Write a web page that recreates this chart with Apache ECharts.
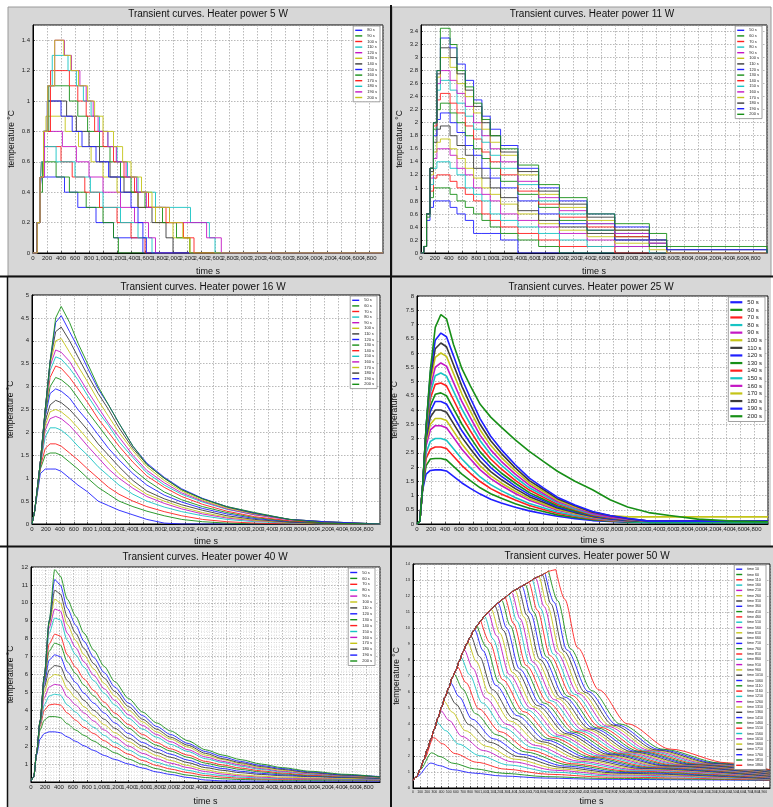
<!DOCTYPE html>
<html>
<head>
<meta charset="utf-8">
<script src="https://cdn.jsdelivr.net/npm/echarts@6/dist/echarts.min.js"></script>
<style>
  html, body { margin: 0; padding: 0; background: #fff; }
  #chart { width: 773px; height: 807px; }
</style>
</head>
<body>
<div id="chart"></div>
<script>
// ---------- data ----------

// 5 W : stair-step curves, [time s, temperature]
const heater5Names = ['80 s', '90 s', '100 s', '110 s', '120 s', '130 s', '140 s', '150 s', '160 s', '170 s', '180 s', '190 s', '200 s'];
const heater5Curves = [
  [[0,0],[60,0.2],[95,0.4],[120,0.5],[450,0.4],[640,0.3],[900,0.2],[1150,0.1],[1570,0],[5000,0]],
  [[0,0],[60,0.2],[95,0.4],[135,0.6],[330,0.5],[520,0.4],[760,0.3],[1000,0.2],[1150,0.1],[1220,0],[5000,0]],
  [[0,0],[60,0.2],[95,0.4],[120,0.6],[150,0.7],[400,0.6],[560,0.5],[740,0.4],[950,0.3],[1200,0.2],[1400,0.1],[1600,0],[5000,0]],
  [[0,0],[60,0.2],[95,0.4],[120,0.6],[150,0.7],[330,0.6],[600,0.5],[820,0.4],[1000,0.3],[1250,0.2],[1500,0.1],[1700,0],[5000,0]],
  [[0,0],[60,0.2],[100,0.5],[165,0.8],[420,0.7],[620,0.6],[800,0.5],[1000,0.4],[1250,0.3],[1450,0.2],[1650,0.1],[1750,0],[5000,0]],
  [[0,0],[60,0.2],[100,0.5],[150,0.8],[185,0.9],[460,0.8],[650,0.7],[830,0.6],[1000,0.5],[1200,0.4],[1500,0.3],[1750,0.2],[2000,0.1],[2240,0],[5000,0]],
  [[0,0],[60,0.2],[100,0.5],[150,0.8],[205,1.0],[480,0.9],[620,0.8],[800,0.7],[950,0.6],[1100,0.5],[1300,0.4],[1500,0.3],[1700,0.2],[1900,0.1],[2000,0],[5000,0]],
  [[0,0],[60,0.2],[100,0.5],[150,0.8],[205,1.0],[400,0.9],[560,0.8],[700,0.7],[900,0.6],[1080,0.5],[1250,0.4],[1400,0.3],[1500,0.2],[1570,0.1],[1620,0],[5000,0]],
  [[0,0],[60,0.2],[100,0.5],[150,0.8],[225,1.1],[520,1.0],[640,0.9],[780,0.8],[950,0.7],[1100,0.6],[1250,0.5],[1400,0.4],[1600,0.3],[1850,0.2],[2050,0.1],[2240,0],[5000,0]],
  [[0,0],[60,0.2],[100,0.5],[150,0.8],[250,1.2],[520,1.1],[640,1.0],[760,0.9],[880,0.8],[1000,0.7],[1150,0.6],[1300,0.5],[1450,0.4],[1650,0.3],[1900,0.2],[2150,0.1],[2300,0],[5000,0]],
  [[0,0],[60,0.2],[100,0.5],[150,0.8],[210,1.1],[275,1.3],[500,1.2],[620,1.1],[720,1.0],[830,0.9],[950,0.8],[1070,0.7],[1200,0.6],[1350,0.5],[1500,0.4],[1750,0.3],[2250,0.2],[2520,0.1],[2600,0],[5000,0]],
  [[0,0],[60,0.2],[100,0.5],[150,0.8],[210,1.1],[310,1.4],[450,1.3],[550,1.2],[670,1.1],[760,1.0],[860,0.9],[930,0.8],[1070,0.7],[1190,0.6],[1330,0.5],[1480,0.4],[1620,0.3],[1950,0.2],[2480,0.1],[2690,0],[5000,0]],
  [[0,0],[60,0.2],[100,0.5],[150,0.8],[210,1.1],[310,1.4],[440,1.3],[540,1.2],[650,1.1],[780,1.0],[880,0.9],[1000,0.8],[1150,0.7],[1280,0.6],[1400,0.5],[1550,0.4],[1700,0.3],[1950,0.2],[2140,0.1],[2240,0],[5000,0]]
];

// heating durations used in the legends of the 11, 16, 25 and 40 W plots
const durationNames = ['50 s', '60 s', '70 s', '80 s', '90 s', '100 s', '110 s', '120 s', '130 s', '140 s', '150 s', '160 s', '170 s', '180 s', '190 s', '200 s'];

// 11 W
const heater11Times = [0, 40, 80, 130, 180, 230, 280, 420, 520, 640, 760, 880, 1000, 1150, 1400, 1700, 2000, 2400, 2800, 3300, 3550, 5000];
const heater11Values = [
  [0, 0.1, 0.5, 0.7, 0.8, 0.8, 0.8, 0.7, 0.6, 0.5, 0.3, 0.3, 0.3, 0.2, 0, 0, 0, 0, 0, 0, 0, 0],
  [0, 0.1, 0.55, 0.85, 1.0, 1.0, 1.0, 0.9, 0.8, 0.7, 0.6, 0.5, 0.4, 0.3, 0.2, 0.1, 0, 0, 0, 0, 0, 0],
  [0, 0.1, 0.6, 0.95, 1.15, 1.2, 1.2, 1.1, 1.0, 0.9, 0.8, 0.6, 0.5, 0.4, 0.3, 0.2, 0.1, 0.1, 0, 0, 0, 0],
  [0, 0.1, 0.6, 1.05, 1.3, 1.4, 1.4, 1.3, 1.2, 1.0, 0.9, 0.8, 0.6, 0.5, 0.4, 0.3, 0.2, 0.1, 0.1, 0, 0, 0],
  [0, 0.1, 0.6, 1.15, 1.45, 1.6, 1.6, 1.5, 1.3, 1.2, 1.0, 0.9, 0.8, 0.6, 0.5, 0.4, 0.3, 0.2, 0.1, 0.1, 0, 0],
  [0, 0.1, 0.6, 1.2, 1.55, 1.7, 1.75, 1.6, 1.45, 1.3, 1.15, 1.0, 0.9, 0.75, 0.6, 0.45, 0.35, 0.25, 0.15, 0.05, 0, 0],
  [0, 0.1, 0.6, 1.25, 1.7, 1.9, 1.95, 1.8, 1.65, 1.5, 1.3, 1.15, 1.0, 0.85, 0.65, 0.5, 0.4, 0.3, 0.2, 0.1, 0, 0],
  [0, 0.1, 0.6, 1.3, 1.8, 2.05, 2.15, 2.0, 1.85, 1.65, 1.5, 1.3, 1.15, 1.0, 0.8, 0.6, 0.45, 0.35, 0.2, 0.1, 0, 0],
  [0, 0.1, 0.6, 1.3, 1.9, 2.2, 2.3, 2.15, 2.0, 1.8, 1.6, 1.45, 1.3, 1.1, 0.9, 0.7, 0.5, 0.35, 0.25, 0.1, 0, 0],
  [0, 0.1, 0.6, 1.3, 1.95, 2.35, 2.45, 2.3, 2.15, 1.95, 1.75, 1.55, 1.4, 1.2, 0.95, 0.75, 0.55, 0.4, 0.25, 0.15, 0, 0],
  [0, 0.1, 0.6, 1.3, 2.0, 2.5, 2.65, 2.5, 2.3, 2.1, 1.9, 1.7, 1.5, 1.3, 1.05, 0.8, 0.6, 0.45, 0.3, 0.15, 0, 0],
  [0, 0.1, 0.6, 1.3, 2.0, 2.6, 2.8, 2.65, 2.45, 2.25, 2.0, 1.8, 1.6, 1.4, 1.1, 0.85, 0.65, 0.45, 0.3, 0.15, 0, 0],
  [0, 0.1, 0.6, 1.3, 2.0, 2.7, 3.0, 2.85, 2.6, 2.4, 2.15, 1.9, 1.7, 1.5, 1.2, 0.9, 0.7, 0.5, 0.35, 0.2, 0, 0],
  [0, 0.1, 0.6, 1.3, 2.0, 2.75, 3.15, 3.0, 2.75, 2.5, 2.25, 2.0, 1.8, 1.55, 1.25, 0.95, 0.75, 0.55, 0.35, 0.2, 0.05, 0],
  [0, 0.1, 0.6, 1.3, 2.0, 2.8, 3.3, 3.15, 2.9, 2.65, 2.35, 2.1, 1.9, 1.65, 1.3, 1.0, 0.8, 0.6, 0.4, 0.2, 0.05, 0],
  [0, 0.1, 0.6, 1.3, 2.0, 2.8, 3.45, 3.2, 2.8, 2.55, 2.3, 2.05, 1.8, 1.6, 1.35, 1.05, 0.85, 0.6, 0.45, 0.3, 0.1, 0]
];

// 16 W
const heater16Times = [0, 40, 120, 190, 260, 340, 420, 540, 660, 800, 950, 1100, 1250, 1450, 1650, 1900, 2150, 2450, 2800, 3200, 3700, 4200, 5000];
const heater16Values = [
  [0, 0.3, 1.1, 1.2, 1.2, 1.2, 1.15, 1.0, 0.85, 0.7, 0.5, 0.4, 0.3, 0.2, 0.1, 0.02, 0, 0, 0, 0, 0, 0, 0],
  [0, 0.3, 1.2, 1.5, 1.55, 1.55, 1.5, 1.35, 1.2, 1.0, 0.8, 0.65, 0.5, 0.38, 0.28, 0.18, 0.1, 0.05, 0.02, 0, 0, 0, 0],
  [0, 0.3, 1.25, 1.65, 1.75, 1.75, 1.7, 1.55, 1.4, 1.2, 1.0, 0.8, 0.65, 0.5, 0.38, 0.27, 0.18, 0.1, 0.05, 0.02, 0, 0, 0],
  [0, 0.3, 1.3, 1.9, 2.1, 2.1, 2.05, 1.9, 1.7, 1.5, 1.25, 1.05, 0.85, 0.65, 0.5, 0.37, 0.27, 0.18, 0.1, 0.05, 0.02, 0, 0],
  [0, 0.3, 1.3, 2.05, 2.3, 2.35, 2.3, 2.15, 1.95, 1.7, 1.45, 1.2, 1.0, 0.78, 0.6, 0.45, 0.33, 0.22, 0.13, 0.07, 0.03, 0, 0],
  [0, 0.3, 1.3, 2.15, 2.45, 2.5, 2.45, 2.3, 2.1, 1.85, 1.6, 1.35, 1.1, 0.85, 0.65, 0.5, 0.37, 0.25, 0.15, 0.08, 0.03, 0, 0],
  [0, 0.3, 1.3, 2.25, 2.6, 2.7, 2.65, 2.5, 2.3, 2.05, 1.75, 1.5, 1.25, 0.95, 0.72, 0.55, 0.42, 0.3, 0.18, 0.1, 0.04, 0.01, 0],
  [0, 0.3, 1.35, 2.35, 2.85, 2.95, 2.9, 2.75, 2.5, 2.25, 1.95, 1.65, 1.4, 1.1, 0.85, 0.63, 0.48, 0.34, 0.22, 0.12, 0.05, 0.02, 0],
  [0, 0.3, 1.35, 2.4, 3.0, 3.2, 3.15, 3.0, 2.75, 2.45, 2.15, 1.85, 1.55, 1.2, 0.95, 0.7, 0.53, 0.38, 0.25, 0.14, 0.06, 0.02, 0],
  [0, 0.3, 1.35, 2.45, 3.2, 3.45, 3.4, 3.2, 2.95, 2.65, 2.3, 2.0, 1.7, 1.35, 1.05, 0.8, 0.6, 0.43, 0.28, 0.16, 0.07, 0.03, 0],
  [0, 0.3, 1.35, 2.45, 3.35, 3.65, 3.6, 3.4, 3.15, 2.8, 2.45, 2.15, 1.8, 1.45, 1.12, 0.85, 0.65, 0.48, 0.32, 0.2, 0.1, 0.05, 0],
  [0, 0.3, 1.35, 2.5, 3.45, 3.8, 3.75, 3.55, 3.25, 2.9, 2.55, 2.2, 1.9, 1.5, 1.17, 0.9, 0.68, 0.5, 0.33, 0.2, 0.09, 0.04, 0],
  [0, 0.3, 1.35, 2.5, 3.5, 4.0, 4.05, 3.75, 3.45, 3.1, 2.7, 2.35, 2.0, 1.6, 1.25, 0.95, 0.72, 0.52, 0.35, 0.22, 0.1, 0.05, 0],
  [0, 0.3, 1.35, 2.5, 3.55, 4.2, 4.3, 4.0, 3.65, 3.25, 2.85, 2.5, 2.1, 1.65, 1.3, 1.0, 0.75, 0.55, 0.37, 0.23, 0.1, 0.05, 0],
  [0, 0.3, 1.35, 2.5, 3.55, 4.4, 4.55, 4.2, 3.85, 3.4, 2.95, 2.6, 2.2, 1.7, 1.33, 1.02, 0.77, 0.56, 0.38, 0.24, 0.1, 0.05, 0],
  [0, 0.3, 1.35, 2.5, 3.55, 4.5, 4.75, 4.4, 3.95, 3.5, 3.0, 2.6, 2.2, 1.7, 1.3, 1.0, 0.75, 0.55, 0.38, 0.25, 0.1, 0.02, 0]
];

// 25 W
const heater25Times = [0, 40, 80, 130, 190, 260, 340, 420, 520, 640, 760, 900, 1050, 1200, 1400, 1600, 1800, 2000, 2250, 2500, 2750, 3000, 3300, 3600, 4000, 4500, 5000];
const heater25Values = [
  [0, 0.1, 1.2, 1.75, 1.88, 1.9, 1.9, 1.86, 1.67, 1.44, 1.25, 1.05, 0.87, 0.74, 0.59, 0.46, 0.36, 0.27, 0.19, 0.12, 0.09, 0.06, 0.05, 0.05, 0.05, 0.05, 0.05],
  [0, 0.1, 1.25, 2.05, 2.28, 2.3, 2.3, 2.25, 2.02, 1.75, 1.52, 1.27, 1.06, 0.9, 0.71, 0.55, 0.44, 0.32, 0.23, 0.15, 0.1, 0.07, 0.05, 0.05, 0.05, 0.05, 0.05],
  [0, 0.1, 1.25, 2.3, 2.62, 2.7, 2.7, 2.65, 2.38, 2.05, 1.78, 1.49, 1.24, 1.05, 0.84, 0.65, 0.51, 0.38, 0.27, 0.18, 0.12, 0.1, 0.1, 0.1, 0.1, 0.1, 0.1],
  [0, 0.1, 1.3, 2.5, 2.9, 3.0, 3.0, 2.94, 2.64, 2.28, 1.98, 1.65, 1.38, 1.17, 0.93, 0.72, 0.57, 0.42, 0.3, 0.2, 0.13, 0.09, 0.06, 0.06, 0.06, 0.06, 0.06],
  [0, 0.1, 1.3, 2.75, 3.3, 3.45, 3.45, 3.38, 3.04, 2.62, 2.28, 1.9, 1.59, 1.35, 1.07, 0.83, 0.66, 0.48, 0.35, 0.22, 0.15, 0.1, 0.1, 0.1, 0.1, 0.1, 0.1],
  [0, 0.1, 1.3, 2.9, 3.5, 3.7, 3.7, 3.63, 3.26, 2.81, 2.44, 2.04, 1.7, 1.44, 1.15, 0.89, 0.7, 0.52, 0.37, 0.24, 0.17, 0.12, 0.1, 0.1, 0.1, 0.1, 0.1],
  [0, 0.1, 1.3, 3.0, 3.75, 4.0, 4.0, 3.92, 3.52, 3.04, 2.64, 2.2, 1.84, 1.56, 1.24, 0.96, 0.76, 0.56, 0.4, 0.26, 0.18, 0.12, 0.1, 0.1, 0.1, 0.1, 0.1],
  [0, 0.1, 1.3, 3.1, 3.95, 4.3, 4.3, 4.21, 3.78, 3.27, 2.84, 2.37, 1.98, 1.68, 1.33, 1.03, 0.82, 0.6, 0.43, 0.28, 0.19, 0.13, 0.1, 0.1, 0.1, 0.1, 0.1],
  [0, 0.1, 1.3, 3.2, 4.15, 4.55, 4.6, 4.5, 4.05, 3.5, 3.04, 2.53, 2.12, 1.79, 1.43, 1.1, 0.87, 0.64, 0.46, 0.3, 0.21, 0.14, 0.08, 0.08, 0.08, 0.08, 0.08],
  [0, 0.1, 1.3, 3.25, 4.4, 4.9, 4.95, 4.85, 4.36, 3.76, 3.27, 2.72, 2.28, 1.93, 1.53, 1.19, 0.94, 0.69, 0.5, 0.32, 0.22, 0.15, 0.1, 0.1, 0.1, 0.1, 0.1],
  [0, 0.1, 1.3, 3.3, 4.6, 5.2, 5.3, 5.19, 4.66, 4.03, 3.5, 2.92, 2.44, 2.07, 1.64, 1.27, 1.01, 0.74, 0.53, 0.34, 0.24, 0.16, 0.1, 0.1, 0.1, 0.1, 0.1],
  [0, 0.1, 1.3, 3.3, 4.8, 5.5, 5.65, 5.54, 4.97, 4.29, 3.73, 3.11, 2.6, 2.2, 1.75, 1.36, 1.07, 0.79, 0.57, 0.37, 0.25, 0.17, 0.1, 0.1, 0.1, 0.1, 0.1],
  [0, 0.1, 1.3, 3.35, 5.0, 5.85, 6.0, 5.88, 5.28, 4.56, 3.96, 3.3, 2.76, 2.34, 1.86, 1.44, 1.14, 0.84, 0.6, 0.42, 0.3, 0.25, 0.25, 0.25, 0.25, 0.25, 0.25],
  [0, 0.1, 1.3, 3.4, 5.15, 6.15, 6.35, 6.22, 5.59, 4.83, 4.19, 3.49, 2.92, 2.48, 1.97, 1.52, 1.21, 0.89, 0.64, 0.41, 0.29, 0.19, 0.1, 0.1, 0.1, 0.1, 0.1],
  [0, 0.1, 1.3, 3.4, 5.3, 6.45, 6.7, 6.57, 5.9, 5.09, 4.42, 3.69, 3.08, 2.61, 2.08, 1.61, 1.27, 0.94, 0.67, 0.44, 0.3, 0.2, 0.1, 0.1, 0.1, 0.1, 0.1],
  [0, 0.1, 1.3, 3.4, 5.4, 6.9, 7.35, 7.2, 6.3, 5.45, 4.85, 4.2, 3.75, 3.4, 2.95, 2.55, 2.2, 1.85, 1.5, 1.2, 0.85, 0.6, 0.4, 0.3, 0.17, 0.1, 0.08]
];

// 40 W
const heater40Times = [0, 40, 80, 130, 190, 260, 340, 420, 520, 640, 760, 900, 1050, 1200, 1400, 1600, 1800, 2000, 2250, 2500, 2750, 3000, 3300, 3600, 4000, 4500, 5000];
const heater40Values = [
  [0.05, 0.3, 1.5, 2.4, 2.7, 2.8, 2.8, 2.75, 2.52, 2.27, 2.02, 1.76, 1.48, 1.26, 1.0, 0.78, 0.56, 0.42, 0.25, 0.11, 0.06, 0.05, 0.05, 0.05, 0.05, 0.05, 0.05],
  [0.05, 0.3, 1.6, 2.9, 3.45, 3.65, 3.65, 3.6, 3.25, 2.9, 2.6, 2.28, 1.94, 1.63, 1.28, 0.98, 0.74, 0.56, 0.38, 0.25, 0.18, 0.14, 0.12, 0.1, 0.1, 0.1, 0.1],
  [0.05, 0.3, 1.6, 3.1, 4.0, 4.3, 4.35, 4.3, 3.85, 3.45, 3.05, 2.7, 2.3, 1.95, 1.55, 1.2, 0.92, 0.72, 0.52, 0.36, 0.27, 0.21, 0.17, 0.15, 0.14, 0.13, 0.12],
  [0.05, 0.3, 1.6, 3.2, 4.3, 4.8, 4.9, 4.85, 4.3, 3.9, 3.45, 3.05, 2.6, 2.2, 1.78, 1.4, 1.1, 0.88, 0.65, 0.46, 0.35, 0.27, 0.22, 0.19, 0.17, 0.15, 0.14],
  [0.05, 0.3, 1.6, 3.3, 4.7, 5.3, 5.45, 5.4, 4.75, 4.3, 3.85, 3.4, 2.9, 2.5, 2.0, 1.6, 1.3, 1.05, 0.8, 0.58, 0.44, 0.34, 0.27, 0.22, 0.2, 0.18, 0.16],
  [0.05, 0.3, 1.6, 3.3, 5.0, 5.8, 6.0, 5.95, 5.2, 4.7, 4.2, 3.7, 3.2, 2.75, 2.25, 1.82, 1.48, 1.2, 0.92, 0.68, 0.52, 0.4, 0.32, 0.27, 0.23, 0.2, 0.18],
  [0.05, 0.3, 1.6, 3.35, 5.3, 6.25, 6.5, 6.45, 5.65, 5.1, 4.55, 4.0, 3.5, 3.0, 2.45, 2.0, 1.65, 1.38, 1.08, 0.8, 0.65, 0.52, 0.42, 0.35, 0.3, 0.25, 0.2],
  [0.05, 0.3, 1.6, 3.4, 5.5, 6.8, 7.1, 7.0, 6.15, 5.55, 4.95, 4.4, 3.85, 3.3, 2.7, 2.2, 1.85, 1.55, 1.22, 0.92, 0.75, 0.6, 0.48, 0.4, 0.32, 0.26, 0.2],
  [0.05, 0.3, 1.6, 3.4, 5.7, 7.3, 7.75, 7.65, 6.7, 6.05, 5.4, 4.8, 4.2, 3.6, 3.0, 2.45, 2.05, 1.72, 1.38, 1.05, 0.86, 0.7, 0.56, 0.45, 0.35, 0.28, 0.22],
  [0.05, 0.3, 1.6, 3.4, 5.8, 7.7, 8.25, 8.15, 7.1, 6.4, 5.75, 5.1, 4.45, 3.85, 3.2, 2.65, 2.2, 1.85, 1.5, 1.15, 0.95, 0.78, 0.62, 0.5, 0.38, 0.3, 0.24],
  [0.05, 0.3, 1.6, 3.4, 5.9, 8.3, 9.15, 9.05, 7.9, 7.1, 6.4, 5.65, 4.95, 4.3, 3.55, 2.95, 2.5, 2.1, 1.7, 1.3, 1.08, 0.88, 0.7, 0.56, 0.43, 0.32, 0.24],
  [0.05, 0.3, 1.6, 3.4, 5.9, 8.6, 9.65, 9.55, 8.3, 7.5, 6.7, 5.95, 5.2, 4.55, 3.75, 3.15, 2.65, 2.25, 1.8, 1.4, 1.15, 0.95, 0.75, 0.6, 0.46, 0.34, 0.25],
  [0.05, 0.3, 1.6, 3.4, 5.9, 8.8, 10.2, 10.0, 8.8, 7.9, 7.1, 6.3, 5.5, 4.8, 4.0, 3.35, 2.8, 2.4, 1.95, 1.5, 1.25, 1.02, 0.8, 0.65, 0.5, 0.36, 0.27],
  [0.05, 0.3, 1.6, 3.4, 5.9, 8.9, 10.7, 10.5, 9.2, 8.3, 7.45, 6.6, 5.8, 5.05, 4.2, 3.5, 2.95, 2.5, 2.05, 1.6, 1.3, 1.08, 0.86, 0.7, 0.52, 0.38, 0.28],
  [0.05, 0.3, 1.6, 3.4, 5.9, 9.0, 11.3, 11.0, 9.7, 8.75, 7.85, 6.95, 6.1, 5.3, 4.4, 3.7, 3.1, 2.65, 2.15, 1.7, 1.4, 1.15, 0.92, 0.75, 0.56, 0.4, 0.3],
  [0.05, 0.3, 1.6, 3.4, 5.9, 9.0, 11.85, 11.5, 10.2, 9.25, 8.3, 7.35, 6.45, 5.6, 4.65, 3.9, 3.3, 2.85, 2.3, 1.8, 1.5, 1.25, 1.0, 0.8, 0.6, 0.43, 0.28]
];

// 50 W : common heating curve, then one peak and fall per run
const heater50Names = ['time 10', 'time 60', 'time 110', 'time 160', 'time 210', 'time 260', 'time 310', 'time 360', 'time 410', 'time 460',
  'time 510', 'time 560', 'time 610', 'time 660', 'time 710', 'time 760', 'time 810', 'time 860', 'time 910', 'time 960',
  'time 1010', 'time 1060', 'time 1110', 'time 1160', 'time 1210', 'time 1260', 'time 1310', 'time 1360', 'time 1410', 'time 1460',
  'time 1510', 'time 1560', 'time 1610', 'time 1660', 'time 1710', 'time 1760', 'time 1810', 'time 1860'];
const heater50RiseT = [0, 50, 100, 150, 200, 250, 300, 350, 400, 450, 500, 550, 600, 650, 700, 750, 800, 850, 900, 950, 1000,
  1050, 1100, 1150, 1200, 1250, 1300, 1350, 1400, 1450, 1500, 1550, 1600, 1650, 1700, 1750, 1800, 1850, 1900, 1950, 2000];
const heater50RiseV = [0.47, 0.7, 1.15, 1.75, 2.4, 3.05, 3.7, 4.38, 5.05, 5.7, 6.25, 6.9, 7.35, 7.95, 8.5, 9.0, 9.4, 9.85, 10.15, 10.45, 10.75,
  10.98, 11.2, 11.4, 11.6, 11.78, 11.95, 12.12, 12.3, 12.42, 12.55, 12.68, 12.8, 12.95, 13.1, 13.2, 13.3, 13.42, 13.55, 13.6, 13.65];
const heater50Cut = [50, 100, 150, 300, 350, 400, 450, 500, 550, 600, 650, 700, 750, 800, 850, 900, 950, 950, 1000, 1050,
  1100, 1150, 1200, 1250, 1300, 1350, 1400, 1450, 1500, 1550, 1600, 1650, 1700, 1750, 1800, 1850, 1900, 2000];
const heater50PeakT = [250, 260, 290, 335, 385, 430, 480, 525, 575, 620, 670, 715, 765, 810, 860, 905, 955, 1000, 1050, 1095,
  1145, 1190, 1240, 1285, 1335, 1380, 1430, 1475, 1525, 1570, 1620, 1665, 1715, 1760, 1810, 1855, 1905, 2005];
const heater50PeakV = [1.56, 2.2, 3.15, 4.1, 4.85, 5.44, 6.03, 6.57, 7.12, 7.59, 8.17, 8.65, 9.12, 9.49, 9.91, 10.18, 10.48, 10.75, 10.98, 11.18,
  11.38, 11.56, 11.74, 11.9, 12.07, 12.23, 12.37, 12.49, 12.62, 12.73, 12.86, 13.0, 13.13, 13.22, 13.32, 13.43, 13.55, 13.65];
const heater50FallDt = [120, 300, 600, 1000, 1600, 2400];
const heater50Fall = [
  [1.40, 1.15, 0.93, 0.75, 0.62, 0.54], [1.96, 1.55, 1.20, 0.92, 0.71, 0.60], [2.77, 2.15, 1.61, 1.18, 0.86, 0.68],
  [3.59, 2.75, 2.02, 1.44, 1.00, 0.76], [4.23, 3.22, 2.34, 1.64, 1.11, 0.82], [4.74, 3.59, 2.60, 1.80, 1.20, 0.87],
  [5.25, 3.97, 2.85, 1.96, 1.29, 0.92], [5.71, 4.31, 3.08, 2.10, 1.37, 0.97], [6.19, 4.65, 3.32, 2.25, 1.45, 1.02],
  [6.59, 4.95, 3.52, 2.38, 1.52, 1.06], [7.09, 5.31, 3.77, 2.53, 1.61, 1.11], [7.50, 5.62, 3.98, 2.66, 1.68, 1.15],
  [7.91, 5.91, 4.18, 2.79, 1.75, 1.19], [8.22, 6.15, 4.34, 2.89, 1.81, 1.22], [8.59, 6.41, 4.52, 3.00, 1.87, 1.25],
  [8.82, 6.58, 4.63, 3.08, 1.91, 1.28], [9.08, 6.77, 4.76, 3.16, 1.95, 1.30], [9.31, 6.94, 4.88, 3.23, 2.00, 1.33],
  [9.51, 7.08, 4.98, 3.29, 2.03, 1.35], [9.68, 7.21, 5.06, 3.35, 2.06, 1.36], [9.85, 7.34, 5.15, 3.40, 2.09, 1.38],
  [10.00, 7.45, 5.23, 3.45, 2.12, 1.39], [10.16, 7.56, 5.30, 3.50, 2.14, 1.41], [10.30, 7.66, 5.37, 3.54, 2.17, 1.42],
  [10.44, 7.77, 5.45, 3.59, 2.19, 1.44], [10.58, 7.87, 5.52, 3.63, 2.22, 1.45], [10.70, 7.96, 5.58, 3.67, 2.24, 1.46],
  [10.80, 8.04, 5.63, 3.70, 2.26, 1.47], [10.92, 8.12, 5.68, 3.74, 2.28, 1.48], [11.01, 8.19, 5.73, 3.77, 2.29, 1.49],
  [11.12, 8.27, 5.79, 3.80, 2.31, 1.50], [11.24, 8.36, 5.85, 3.84, 2.33, 1.52], [11.35, 8.44, 5.90, 3.87, 2.35, 1.53],
  [11.43, 8.50, 5.94, 3.90, 2.37, 1.54], [11.52, 8.56, 5.98, 3.92, 2.38, 1.54], [11.61, 8.63, 6.03, 3.95, 2.40, 1.55],
  [11.72, 8.70, 6.08, 3.99, 2.42, 1.56], [11.80, 8.77, 6.13, 4.01, 2.43, 1.57]
];
const heater50End = [0.47, 0.49, 0.5, 0.53, 0.55, 0.56, 0.58, 0.6, 0.62, 0.64, 0.67, 0.69, 0.71, 0.73, 0.75, 0.77, 0.79, 0.81, 0.83, 0.85,
  0.87, 0.88, 0.9, 0.92, 0.94, 0.96, 0.97, 0.99, 1.01, 1.03, 1.05, 1.06, 1.08, 1.09, 1.1, 1.11, 1.13, 1.14];

// ---------- building ----------
const lineColors = ['#1f1fff', '#178f17', '#ff1f1f', '#17c4c4', '#c417c4', '#c4c417', '#3a3a3a'];
const font = 'Liberation Sans, Arial, sans-serif';

function zip(times, values) {
  return times.map((t, i) => [t, values[i]]);
}

const heater50Curves = heater50PeakT.map((tp, i) => {
  const rise = zip(heater50RiseT, heater50RiseV).filter(p => p[0] <= heater50Cut[i]);
  const fall = heater50FallDt.map((dt, j) => [tp + dt, heater50Fall[i][j]]);
  return rise.concat([[tp, heater50PeakV[i]]], fall, [[5000, heater50End[i]]]);
});

const panels = [
  { title: 'Transient curves. Heater power 5 W', names: heater5Names, curves: heater5Curves,
    grid: { left: 33, top: 25, width: 350, height: 228 }, yMax: 1.5, yStep: 0.2, xStep: 200, step: 'end',
    titleX: 208, titleY: 9, yGap: 17, xGap: 14, lw: 0.9,
    lg: { right: 393, top: 26, font: 4, lh: 4.6, gap: 1, icon: 7 } },
  { title: 'Transient curves. Heater power 11 W', names: durationNames, curves: heater11Values.map(v => zip(heater11Times, v)),
    grid: { left: 421, top: 25, width: 346, height: 228 }, yMax: 3.5, yStep: 0.2, xStep: 200, step: 'end',
    titleX: 592, titleY: 9, yGap: 17, xGap: 14, lw: 0.9,
    lg: { right: 11, top: 26, font: 4, lh: 4.6, gap: 1, icon: 7 } },
  { title: 'Transient curves. Heater power 16 W', names: durationNames, curves: heater16Values.map(v => zip(heater16Times, v)),
    grid: { left: 32, top: 295, width: 348, height: 229 }, yMax: 5, yStep: 0.5, xStep: 200,
    titleX: 203, titleY: 282, yGap: 17, xGap: 13, lw: 0.9,
    lg: { right: 396, top: 296, font: 4, lh: 4.6, gap: 1, icon: 7 } },
  { title: 'Transient curves. Heater power 25 W', names: durationNames, curves: heater25Values.map(v => zip(heater25Times, v)),
    grid: { left: 417, top: 296, width: 351, height: 228 }, yMax: 8, yStep: 0.5, xStep: 200,
    titleX: 591, titleY: 282, yGap: 18, xGap: 12, lw: 1.6,
    lg: { right: 8, top: 297, font: 6, lh: 6.5, gap: 1.1, icon: 12, iconH: 2.2 } },
  { title: 'Transient curves. Heater power 40 W', names: durationNames, curves: heater40Values.map(v => zip(heater40Times, v)),
    grid: { left: 31, top: 567, width: 349, height: 218 }, yMax: 12, yStep: 1, xStep: 200, minor: true, hideZero: true,
    titleX: 205, titleY: 552, yGap: 16, xGap: 15, lw: 0.9, smooth: 0.25,
    lg: { right: 398, top: 568, font: 4, lh: 5, gap: 0.9, icon: 7 } },
  { title: 'Transient curves. Heater power 50 W', names: heater50Names, curves: heater50Curves,
    grid: { left: 413, top: 564, width: 357, height: 229 }, yMax: 14, yStep: 1, xStep: 100, tiny: true,
    titleX: 587, titleY: 551, yGap: 10, xGap: 9, lw: 0.9, smooth: 0.3,
    lg: { right: 7, top: 565, font: 3.6, lh: 4.4, gap: 0.9, icon: 6 } }
];

const gridLine = { color: '#9c9c9c', type: [1.5, 1.5], width: 0.7 };

const series = [];
panels.forEach((p, k) => {
  p.curves.forEach((data, i) => {
    const c = lineColors[i % lineColors.length];
    series.push({
      type: 'line', name: k + '|' + p.names[i], xAxisIndex: k, yAxisIndex: k, data: data,
      step: p.step || false, smooth: p.smooth || false, smoothMonotone: 'x',
      symbol: 'none', showSymbol: false, silent: true, color: c,
      lineStyle: { width: p.lw, color: c }
    });
  });
});

const option = {
  animation: false,
  backgroundColor: '#ffffff',
  graphic: [
    { type: 'rect', z: -10, shape: { x: 8, y: 7, width: 383, height: 269 }, style: { fill: '#d7d7d7', stroke: '#9a9a9a', lineWidth: 1 } },
    { type: 'rect', z: -10, shape: { x: 392, y: 7, width: 379, height: 269 }, style: { fill: '#d7d7d7', stroke: '#9a9a9a', lineWidth: 1 } },
    { type: 'rect', z: -10, shape: { x: 8, y: 277, width: 383, height: 269 }, style: { fill: '#d7d7d7' } },
    { type: 'rect', z: -10, shape: { x: 392, y: 277, width: 379, height: 269 }, style: { fill: '#d7d7d7' } },
    { type: 'rect', z: -10, shape: { x: 8, y: 547, width: 383, height: 260 }, style: { fill: '#d7d7d7' } },
    { type: 'rect', z: -10, shape: { x: 392, y: 547, width: 381, height: 260 }, style: { fill: '#d7d7d7' } },
    { type: 'line', z: -9, shape: { x1: 0, y1: 276.5, x2: 773, y2: 276.5 }, style: { stroke: '#111', lineWidth: 2 } },
    { type: 'line', z: -9, shape: { x1: 0, y1: 546.5, x2: 773, y2: 546.5 }, style: { stroke: '#111', lineWidth: 2 } },
    { type: 'line', z: -9, shape: { x1: 391, y1: 5, x2: 391, y2: 807 }, style: { stroke: '#111', lineWidth: 2 } },
    { type: 'line', z: -9, shape: { x1: 7.5, y1: 276, x2: 7.5, y2: 807 }, style: { stroke: '#111', lineWidth: 1.5 } }
  ],
  title: panels.map(p => ({
    text: p.title, left: p.titleX, top: p.titleY, textAlign: 'center', padding: 0,
    textStyle: { fontSize: 10, fontWeight: 'normal', color: '#111', fontFamily: font }
  })),
  grid: panels.map(p => ({
    left: p.grid.left, top: p.grid.top, width: p.grid.width, height: p.grid.height,
    show: true, backgroundColor: '#ffffff', borderColor: '#000', borderWidth: 1
  })),
  xAxis: panels.map((p, k) => ({
    type: 'value', gridIndex: k, min: 0, max: 5000, interval: p.xStep,
    name: 'time s', nameLocation: 'middle', nameGap: p.xGap,
    nameTextStyle: { fontSize: 9, color: '#111', fontFamily: font },
    axisLine: { show: true, lineStyle: { color: '#000', width: 1 } },
    axisTick: { show: true, inside: true, length: 2, lineStyle: { color: '#000', width: 0.6 } },
    axisLabel: { fontSize: p.tiny ? 3.4 : 6, color: '#222', margin: 2.5, fontFamily: font, hideOverlap: false },
    splitLine: { show: true, lineStyle: gridLine },
    minorTick: { show: false, splitNumber: 5 },
    minorSplitLine: { show: !!p.minor, lineStyle: { color: '#c9c9c9', type: [1, 1.5], width: 0.5 } }
  })),
  yAxis: panels.map((p, k) => ({
    type: 'value', gridIndex: k, min: 0, max: p.yMax, interval: p.yStep,
    name: 'temperature \u00b0C', nameLocation: 'middle', nameGap: p.yGap, nameRotate: 90,
    nameTextStyle: { fontSize: 8.5, color: '#111', fontFamily: font },
    axisLine: { show: true, lineStyle: { color: '#000', width: 1 } },
    axisTick: { show: true, inside: true, length: 2, lineStyle: { color: '#000', width: 0.6 } },
    axisLabel: { fontSize: p.tiny ? 4 : 6, color: '#222', margin: 3, fontFamily: font,
      showMaxLabel: (p.yMax / p.yStep) % 1 === 0, showMinLabel: !p.hideZero },
    splitLine: { show: true, lineStyle: gridLine },
    minorTick: { show: false, splitNumber: 5 },
    minorSplitLine: { show: !!p.minor, lineStyle: { color: '#c9c9c9', type: [1, 1.5], width: 0.5 } }
  })),
  legend: panels.map((p, k) => ({
    data: p.names.map(n => k + '|' + n),
    formatter: n => n.split('|')[1],
    orient: 'vertical', right: p.lg.right, top: p.lg.top,
    backgroundColor: '#ffffff', borderColor: '#8a8a8a', borderWidth: 0.8,
    padding: [2, 3, 2, 2], itemGap: p.lg.gap, itemWidth: p.lg.icon, itemHeight: p.lg.iconH || 1.4,
    icon: 'rect', selectedMode: false,
    textStyle: { fontSize: p.lg.font, lineHeight: p.lg.lh, color: '#222', fontFamily: font }
  })),
  series: series
};

const chart = echarts.init(document.getElementById('chart'), null, { renderer: 'canvas' });
chart.setOption(option);
</script>
</body>
</html>
